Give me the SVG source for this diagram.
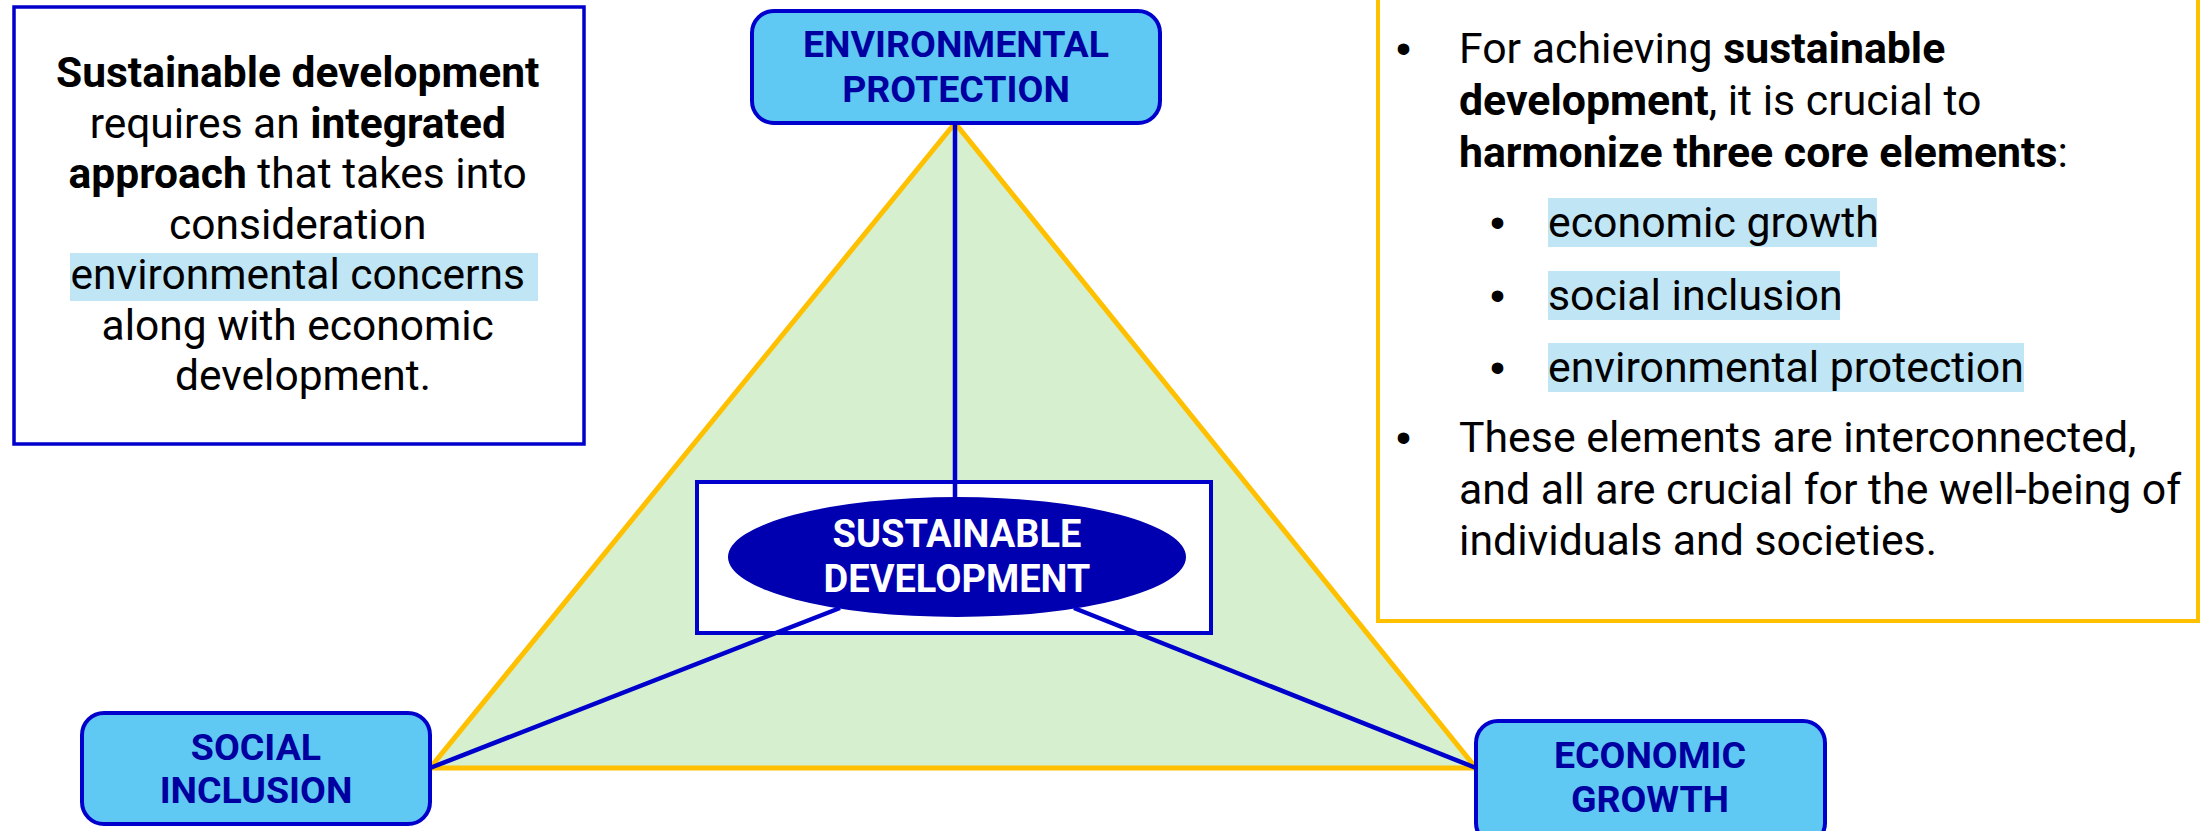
<svg xmlns="http://www.w3.org/2000/svg" width="2204" height="831" viewBox="0 0 2204 831">
<style>
.txt{font-family:Roboto,"Liberation Sans",sans-serif;fill:#000}
.b{font-weight:bold}
.bul{font-family:"Liberation Sans",Arial,sans-serif}
.node{fill:#5FC9F3;stroke:#0000CC;stroke-width:4}
.nt{font-family:Roboto,"Liberation Sans",sans-serif;font-weight:bold;font-size:37.5px;fill:#0000A0;text-anchor:middle}
.hl{fill:#C0E5F5}
.conn{stroke:#0000CC;stroke-width:4.5;fill:none}
</style>
<rect width="2204" height="831" fill="#fff"/>
<g id="triangle">
<polygon points="955,123 430,768 1476,768" fill="#D5EFCF" stroke="#FFC000" stroke-width="5" stroke-linejoin="miter"/>
</g>
<g id="left-note">
<rect x="14" y="7" width="570" height="437" fill="#fff" stroke="#0000CC" stroke-width="3.5"/>
<rect class="hl" x="70" y="253" width="468" height="48"/>
<text class="txt" font-size="42.5" text-anchor="middle">
<tspan x="303" y="87" class="b">Sustainable development</tspan>
<tspan x="303" y="138">requires an <tspan class="b">integrated</tspan></tspan>
<tspan x="303" y="188"><tspan class="b">approach</tspan> that takes into</tspan>
<tspan x="303" y="239">consideration</tspan>
<tspan x="303" y="289">environmental concerns </tspan>
<tspan x="303" y="340">along with economic</tspan>
<tspan x="303" y="390">development.</tspan>
</text>
</g>
<g id="right-note">
<rect x="1378" y="-10" width="820" height="631" fill="#fff" stroke="#FFC000" stroke-width="4"/>
<rect class="hl" x="1548" y="198" width="329" height="49"/>
<rect class="hl" x="1548" y="271" width="292" height="49"/>
<rect class="hl" x="1548" y="343" width="476" height="49"/>
<text class="txt" font-size="42.8">
<tspan class="bul" x="1396" y="63">•</tspan>
<tspan x="1459" y="63">For achieving <tspan class="b">sustainable</tspan></tspan>
<tspan x="1459" y="115"><tspan class="b">development</tspan>, it is crucial to</tspan>
<tspan x="1459" y="167"><tspan class="b">harmonize three core elements</tspan>:</tspan>
<tspan class="bul" x="1490" y="237">•</tspan>
<tspan x="1548" y="237">economic growth</tspan>
<tspan class="bul" x="1490" y="310">•</tspan>
<tspan x="1548" y="310">social inclusion</tspan>
<tspan class="bul" x="1490" y="382">•</tspan>
<tspan x="1548" y="382">environmental protection</tspan>
<tspan class="bul" x="1396" y="452">•</tspan>
<tspan x="1459" y="452">These elements are interconnected,</tspan>
<tspan x="1459" y="504">and all are crucial for the well-being of</tspan>
<tspan x="1459" y="555">individuals and societies.</tspan>
</text>
</g>
<g id="sustainable-development">
<rect x="697" y="482" width="514" height="151" fill="#fff" stroke="#0000CC" stroke-width="4"/>
<ellipse cx="957" cy="557" rx="229" ry="60" fill="#0000B0"/>
<text class="nt" style="fill:#fff;font-size:38px"><tspan x="957" y="547">SUSTAINABLE</tspan><tspan x="957" y="592">DEVELOPMENT</tspan></text>
</g>
<g id="connectors">
<line class="conn" x1="955" y1="123" x2="955" y2="497"/>
<line class="conn" x1="430" y1="768" x2="840" y2="608"/>
<line class="conn" x1="1476" y1="768" x2="1074" y2="608"/>
</g>
<g id="environmental-protection">
<rect class="node" x="752" y="11" width="408" height="112" rx="22"/>
<text class="nt"><tspan x="956" y="57">ENVIRONMENTAL</tspan><tspan x="956" y="102">PROTECTION</tspan></text>
</g>
<g id="social-inclusion">
<rect class="node" x="82" y="713" width="348" height="111" rx="22"/>
<text class="nt"><tspan x="256" y="760">SOCIAL</tspan><tspan x="256" y="803">INCLUSION</tspan></text>
</g>
<g id="economic-growth">
<rect class="node" x="1476" y="721" width="349" height="124" rx="22"/>
<text class="nt"><tspan x="1650" y="768">ECONOMIC</tspan><tspan x="1650" y="812">GROWTH</tspan></text>
</g>
</svg>
